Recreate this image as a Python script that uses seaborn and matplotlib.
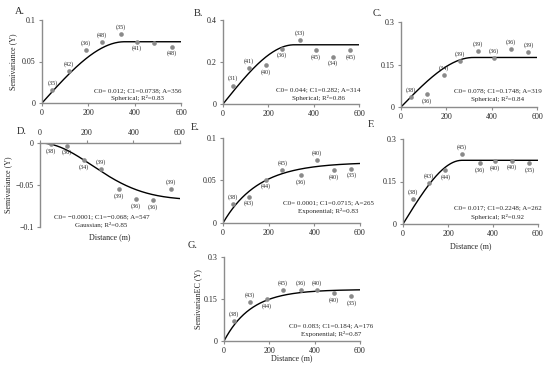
import numpy as np
import seaborn as sns
import matplotlib.pyplot as plt

# lag distances (m) of the experimental semivariogram points
lag_m = [45, 115, 188, 260, 340, 410, 485, 562]

# semivariance values, one list per panel
semiv_a = [0.016, 0.038, 0.064, 0.073, 0.083, 0.074, 0.072, 0.068]
semiv_b = [0.088, 0.171, 0.187, 0.264, 0.304, 0.256, 0.226, 0.256]
semiv_c = [0.036, 0.047, 0.113, 0.162, 0.199, 0.172, 0.204, 0.193]
semiv_d = [-0.0016, -0.003, -0.020, -0.031, -0.055, -0.067, -0.068, -0.055]
semiv_e = [0.022, 0.031, 0.051, 0.062, 0.056, 0.074, 0.062, 0.064]
semiv_f = [0.089, 0.145, 0.189, 0.247, 0.215, 0.221, 0.224, 0.215]
semiv_g = [0.070, 0.139, 0.151, 0.181, 0.181, 0.183, 0.171, 0.160]

# number of pairs printed next to each point
pairs_a = ['35', '42', '36', '48', '35', '41', '', '48']
pairs_b = ['31', '41', '40', '36', '33', '45', '34', '45']
pairs_c = ['38', '36', '34', '39', '39', '36', '36', '39']
pairs_d = ['38', '36', '34', '39', '39', '36', '36', '39']
pairs_e = ['38', '43', '44', '45', '36', '40', '40', '35']
pairs_f = ['38', '43', '44', '45', '36', '40', '40', '35']
pairs_g = ['38', '43', '44', '45', '36', '40', '40', '35']

# fitted models: type, sill (C1), range used for the drawn curve
model_kind = ['Spherical', 'Spherical', 'Spherical', 'Gaussian', 'Exponential', 'Spherical', 'Exponential']
model_c1 = [0.0738, 0.282, 0.1748, -0.068, 0.0715, 0.2248, 0.184]
model_range = [356, 314, 319, 547, 155, 262, 120]  # exponential: effective range of the drawn line

fit_line1 = ['C0= 0.012; C1=0.0738; A=356', 'C0= 0.044; C1=0.282; A=314', 'C0= 0.078; C1=0.1748; A=319',
             'C0= \u22120.0001; C1=\u22120.068; A=547', 'C0= 0.0001; C1=0.0715; A=265',
             'C0= 0.017; C1=0.2248; A=262', 'C0= 0.083; C1=0.184; A=176']
fit_line2 = ['Spherical; R\u00b2=0.83', 'Spherical; R\u00b2=0.86', 'Spherical; R\u00b2=0.84',
             'Gaussian; R\u00b2=0.85', 'Exponential; R\u00b2=0.83', 'Spherical; R\u00b2=0.92',
             'Exponential; R\u00b2=0.87']

panel_tags = ['A.', 'B.', 'C.', 'D.', 'E.', 'F.', 'G.']
x_ticks = [0, 200, 400, 600]
x_ticklabels = ['0', '200', '400', '600']
y_ticks = [[0, 0.05, 0.1], [0, 0.2, 0.4], [0, 0.15, 0.3], [0, -0.05, -0.1],
           [0, 0.05, 0.1], [0, 0.15, 0.3], [0, 0.15, 0.3]]
y_ticklabels = [['0', '0.05', '0.1'], ['0', '0.2', '0.4'], ['0', '0.15', '0.3'],
                ['0', '\u22120.05', '\u22120.1'], ['0', '0.05', '0.1'],
                ['0', '0.15', '0.3'], ['0', '0.15', '0.3']]
y_titles = ['Semivariance (Y)', '', '', 'Semivariance (Y)', '', '', 'SemivarianEC (Y)']
x_titles = ['', '', '', 'Distance (m)', '', 'Distance (m)', 'Distance (m)']

semiv = [semiv_a, semiv_b, semiv_c, semiv_d, semiv_e, semiv_f, semiv_g]
pairs = [pairs_a, pairs_b, pairs_c, pairs_d, pairs_e, pairs_f, pairs_g]

# ---- layout / style ----
# axes box in pixels: left, top, right, bottom
boxes = [(42, 20, 181, 103), (223, 20, 359, 104), (401, 22, 537, 107),
         (40, 143, 180, 227), (223, 138, 360, 223), (403, 139, 538, 224),
         (224, 257, 360, 341)]
# where the pair counts go: 1 above the point, -1 below
label_side = [[1, 1, 1, 1, 1, -1, -1, -1],
              [1, 1, -1, -1, 1, -1, -1, -1],
              [1, -1, 1, 1, 1, 1, 1, 1],
              [-1, -1, -1, 1, -1, -1, -1, 1],
              [1, -1, -1, 1, -1, 1, -1, -1],
              [1, 1, -1, 1, -1, -1, -1, -1],
              [1, 1, -1, 1, 1, 1, -1, -1]]
tag_xy = [(20, 11), (198, 14), (377, 13), (22, 131), (195, 127), (372, 125), (193, 246)]
fit_x = [0.69, 0.70, 0.71, 0.44, 0.77, 0.70, 0.79]
fit_y = [(0.15, 0.06), (0.167, 0.07), (0.19, 0.094), (0.12, 0.036),
         (0.235, 0.14), (0.19, 0.08), (0.18, 0.08)]
ylab_x = [-0.209, 0, 0, -0.229, 0, 0, -0.19]
xlab_y = [0, 0, 0, -0.12, 0, -0.26, -0.21]

sns.set_style('ticks')
plt.rcParams['font.family'] = ['Liberation Serif', 'DejaVu Serif']
W, H = 550, 369
axis_gray = '#8c8c8c'


def model_curve(kind, c1, a, h):
    if kind == 'Spherical':
        r = h / a
        return np.where(h < a, c1 * (1.5 * r - 0.5 * r ** 3), c1)
    if kind == 'Gaussian':
        return c1 * (1 - np.exp(-3 * (h / a) ** 2))
    return c1 * (1 - np.exp(-h / a))


fig = plt.figure(figsize=(W / 100, H / 100), dpi=100)
h = np.linspace(0, 600, 300)

for i in range(7):
    l, t, r, b = boxes[i]
    ax = fig.add_axes([l / W, 1 - b / H, (r - l) / W, (b - t) / H])
    sns.lineplot(x=h, y=model_curve(model_kind[i], model_c1[i], model_range[i], h),
                 ax=ax, color='black', linewidth=1.0)
    sns.scatterplot(x=lag_m, y=semiv[i], ax=ax, color='#8a8a8a', s=11,
                    linewidth=0, legend=False, zorder=3)
    for xv, yv, txt, side in zip(lag_m, semiv[i], pairs[i], label_side[i]):
        if txt:
            ax.annotate('(' + txt + ')', (xv, yv), xytext=(0, 5 * side),
                        textcoords='offset points', ha='center', va='center', fontsize=4.4)

    ax.set_xlim(0, 600)
    lo, hi = min(y_ticks[i]), max(y_ticks[i])
    ax.set_ylim(lo, hi)
    ax.set_xticks(x_ticks)
    ax.set_xticklabels(x_ticklabels)
    ax.set_yticks(y_ticks[i])
    ax.set_yticklabels(y_ticklabels[i])
    ax.tick_params(labelsize=5.8, length=2.5, width=0.8, color=axis_gray, pad=2)
    for sp in ax.spines.values():
        sp.set_color(axis_gray)
        sp.set_linewidth(1.0)
    ax.spines['right'].set_visible(False)
    if model_kind[i] == 'Gaussian':
        ax.xaxis.tick_top()
        ax.spines['bottom'].set_visible(False)
    else:
        ax.spines['top'].set_visible(False)

    if y_titles[i]:
        ax.set_ylabel(y_titles[i], fontsize=5.8)
        ax.yaxis.set_label_coords(ylab_x[i], 0.5)
        ax.yaxis.label.set_verticalalignment('center')
    if x_titles[i]:
        ax.set_xlabel(x_titles[i], fontsize=5.8)
        ax.xaxis.set_label_position('bottom')
        ax.xaxis.set_label_coords(0.5, xlab_y[i])
        ax.xaxis.label.set_verticalalignment('center')

    ax.text(fit_x[i], fit_y[i][0], fit_line1[i], transform=ax.transAxes,
            ha='center', va='center', fontsize=5)
    ax.text(fit_x[i], fit_y[i][1], fit_line2[i], transform=ax.transAxes,
            ha='center', va='center', fontsize=5)

    fig.text(tag_xy[i][0] / W, 1 - tag_xy[i][1] / H, panel_tags[i],
             ha='center', va='center', fontsize=7.5)

fig.savefig('out.png', dpi=100, facecolor='white')
